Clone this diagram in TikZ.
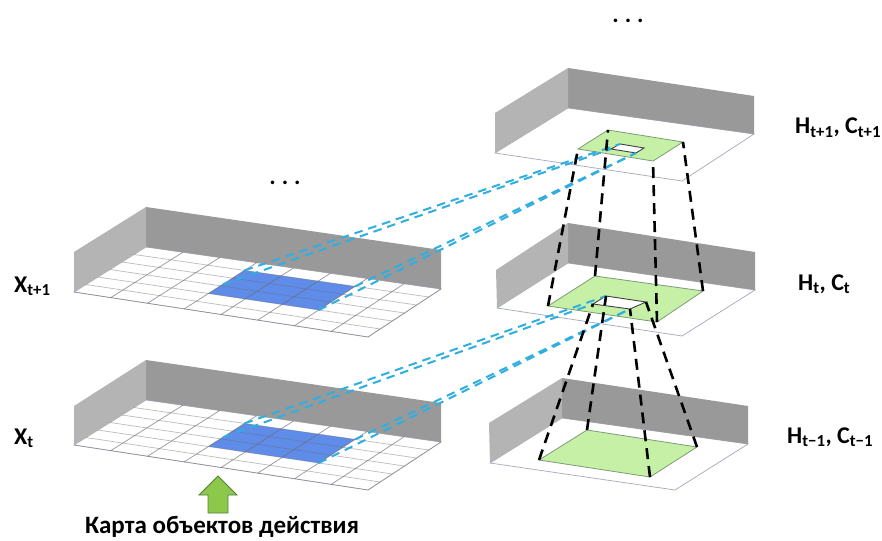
\documentclass[tikz,border=0pt]{standalone}
\usepackage{fontspec}
\usetikzlibrary{calc}
\setmainfont{Carlito}
\definecolor{backwall}{HTML}{999999}
\definecolor{sidewall}{HTML}{B4B4B4}
\definecolor{floorline}{HTML}{A4A8BC}
\definecolor{gridline}{HTML}{6A6A72}
\definecolor{cellblue}{HTML}{5F8CE8}
\definecolor{patchgreen}{HTML}{C6F0A6}
\definecolor{patchedge}{HTML}{7F9A78}
\definecolor{linkcyan}{HTML}{30AEDF}
\definecolor{arrowgreen}{HTML}{8CC84B}
\definecolor{arrowedge}{HTML}{55803A}
\tikzset{
  x=1pt,y=-1pt,
  back/.style={fill=backwall,draw=none},
  side/.style={fill=sidewall,draw=none},
  floorplane/.style={fill=white,draw=floorline,line width=0.7pt},
  gridcol/.style={draw=gridline,draw opacity=0.7,line width=0.7pt},
  gridrow/.style={draw=gridline,draw opacity=0.45,line width=0.7pt},
  bluepatch/.style={fill=cellblue,draw=none},
  greenpatch/.style={fill=patchgreen,draw=patchedge,line width=0.8pt},
  hole/.style={fill=white,draw=black!75,line width=0.9pt},
  cyanlink/.style={draw=linkcyan,line width=2pt,dash pattern=on 8.5pt off 6pt},
  blacklink/.style={draw=black,line width=2.6pt,dash pattern=on 11pt off 7pt},
  lab/.style={font=\bfseries\fontsize{24}{26}\selectfont,inner sep=0pt},
  maplab/.style={font=\bfseries\fontsize{25}{28}\selectfont,inner sep=0pt},
  dots/.style={font=\bfseries\fontsize{24}{24}\selectfont,inner sep=0pt}
}
\newcommand{\roomlayer}[8]{%
  \coordinate (#1fl) at #2; \coordinate (#1flt) at #3; \coordinate (#1blt) at #4;
  \coordinate (#1bl) at #5; \coordinate (#1brt) at #6; \coordinate (#1br) at #7;
  \coordinate (#1fr) at #8;
  \path[floorplane] (#1fl) -- (#1bl) -- (#1br) -- (#1fr) -- cycle;
  \path[back] (#1blt) -- (#1brt) -- (#1br) -- (#1bl) -- cycle;
  \path[side] (#1flt) -- (#1blt) -- (#1bl) -- (#1fl) -- cycle;
}
\newcommand{\gridcells}[1]{%
  \coordinate (#1a) at ($(#1fl)!3/8!(#1fr)!5/6!($(#1bl)!3/8!(#1br)$)$);
  \coordinate (#1b) at ($(#1fl)!3/8!(#1fr)!2/6!($(#1bl)!3/8!(#1br)$)$);
  \coordinate (#1c) at ($(#1fl)!6/8!(#1fr)!5/6!($(#1bl)!6/8!(#1br)$)$);
  \coordinate (#1d) at ($(#1fl)!6/8!(#1fr)!2/6!($(#1bl)!6/8!(#1br)$)$);
  \coordinate (#1e) at ($(#1b)!0.4!(#1a)$);
  \path[bluepatch] (#1a) -- (#1c) -- (#1d) -- (#1b) -- cycle;
  \foreach \u in {1,...,7}{\path[gridcol] ($(#1fl)!\u/8!(#1fr)$) -- ($(#1bl)!\u/8!(#1br)$);}
  \foreach \v in {1,...,5}{\path[gridrow] ($(#1fl)!\v/6!(#1bl)$) -- ($(#1fr)!\v/6!(#1br)$);}
  \path[gridrow] (#1fl) -- (#1fr) -- (#1br);
}
\begin{document}
\begin{tikzpicture}
\useasboundingbox (0,0) rectangle (882,540);
\fill[white] (0,0) rectangle (882,540);

\roomlayer{xa}{(74,292)}{(74,252)}{(146,207)}{(146,247)}{(441,250)}{(441,289)}{(368,337)}
\gridcells{xa}
\roomlayer{xb}{(74,445)}{(74,406)}{(146,360)}{(146,400)}{(441,403)}{(441,442)}{(368,490)}
\gridcells{xb}

\roomlayer{ha}{(495,153)}{(495,113)}{(568,68)}{(568,108)}{(754,96)}{(754,134)}{(682,181)}
\roomlayer{hb}{(497,308)}{(496,270)}{(568,223)}{(568,263)}{(755,252)}{(755,290)}{(682,336)}
\roomlayer{hc}{(490,463)}{(489,423)}{(562,378)}{(562,418)}{(748,406)}{(748,444)}{(675,490)}

\coordinate (ga1) at (578,149); \coordinate (ga2) at (608,130); \coordinate (ga3) at (683,142); \coordinate (ga4) at (653,161);
\path[greenpatch] (ga1) -- (ga2) -- (ga3) -- (ga4) -- cycle;
\coordinate (wa1) at (611,149); \coordinate (wa2) at (620,144); \coordinate (wa3) at (644,148); \coordinate (wa4) at (636,153);
\path[hole] (wa1) -- (wa2) -- (wa3) -- (wa4) -- cycle;
\coordinate (gb1) at (548,306); \coordinate (gb2) at (595,276); \coordinate (gb3) at (703,291); \coordinate (gb4) at (657,322);
\path[greenpatch] (gb1) -- (gb2) -- (gb3) -- (gb4) -- cycle;
\coordinate (wb1) at (593,304); \coordinate (wb2) at (606,296); \coordinate (wb3) at (646,302); \coordinate (wb4) at (630,309);
\path[hole] (wb1) -- (wb2) -- (wb3) -- (wb4) -- cycle;
\coordinate (gc1) at (539,460); \coordinate (gc2) at (587,430); \coordinate (gc3) at (697,447); \coordinate (gc4) at (650,477);
\path[greenpatch] (gc1) -- (gc2) -- (gc3) -- (gc4) -- cycle;

\draw[cyanlink] (xaa) -- (wa2);
\draw[cyanlink] (xae) -- (wa1);
\draw[cyanlink] (xac) -- (wa4);
\draw[cyanlink] (xad) -- (wa4);
\draw[cyanlink] (xba) -- (wb2);
\draw[cyanlink] (xbe) -- (wb1);
\draw[cyanlink] (xbc) -- (wb4);
\draw[cyanlink] (xbd) -- (wb4);

\draw[blacklink] (gb1) -- (ga1);
\draw[blacklink] (gb2) -- (ga2);
\draw[blacklink] (gb3) -- (ga3);
\draw[blacklink] (gb4) -- (ga4);
\draw[blacklink] (gc1) -- (wb1);
\draw[blacklink] (gc2) -- (wb2);
\draw[blacklink] (gc4) -- (wb4);
\draw[blacklink] (gc3) -- (wb3);

\path[fill=arrowgreen,draw=arrowedge,line width=0.9pt]
  (218,476) -- (237,495) -- (228,495) -- (228,513) -- (208,513) -- (208,495) -- (199,495) -- cycle;

\node[maplab] (mapl) at (222,527) {Карта объектов действия};
\node[lab,anchor=base west] (xal) at (14,292) {X\textsubscript{t+1}};
\node[lab,anchor=base west] (xbl) at (14,444) {X\textsubscript{t}};
\node[lab,anchor=base west] (hal) at (795,134) {H\textsubscript{t+1}, C\textsubscript{t+1}};
\node[lab,anchor=base west] (hbl) at (798,290) {H\textsubscript{t}, C\textsubscript{t}};
\node[lab,anchor=base west] (hcl) at (787,443) {H\textsubscript{t−1}, C\textsubscript{t−1}};
\node[dots,anchor=base] (dotsa) at (285,184) {.\kern6pt.\kern6pt.};
\node[dots,anchor=base] (dotsb) at (628,23) {.\kern6pt.\kern6pt.};
\end{tikzpicture}
\end{document}
